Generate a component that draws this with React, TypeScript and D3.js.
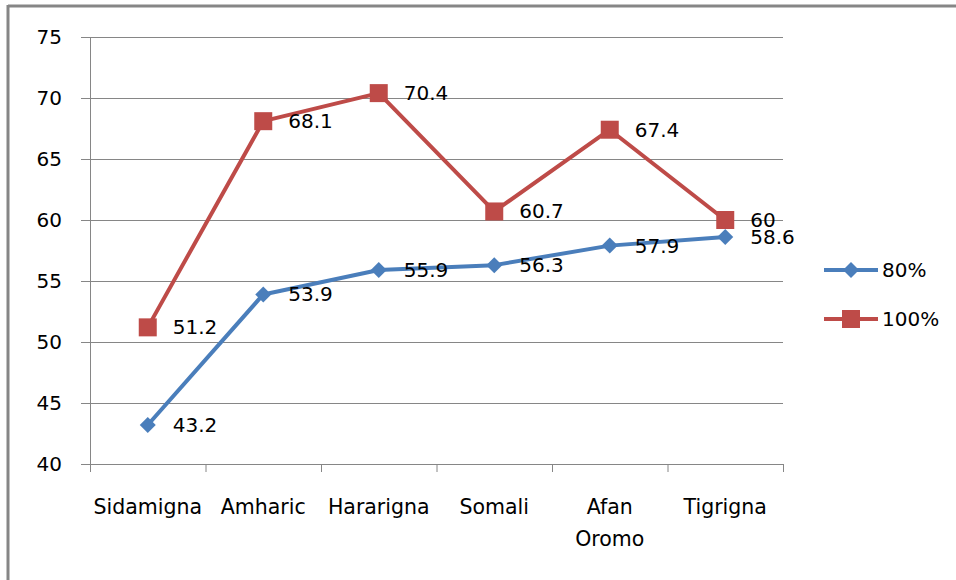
import React from "react";
import * as d3 from "d3";

const categories: string[][] = [["Sidamigna"], ["Amharic"], ["Hararigna"], ["Somali"], ["Afan", "Oromo"], ["Tigrigna"]];
const series80: number[] = [43.2, 53.9, 55.9, 56.3, 57.9, 58.6];
const series100: number[] = [51.2, 68.1, 70.4, 60.7, 67.4, 60];
const yTicks: number[] = [40, 45, 50, 55, 60, 65, 70, 75];

const W = 956, H = 580;
const left = 90, right = 783, top = 37, bottom = 464;
const FONT = "DejaVu Sans, sans-serif";
const BLUE = "#4a7ebb";
const RED = "#be4b48";

export default function App() {
  const x = d3.scaleBand<number>().domain(d3.range(categories.length)).range([left, right]);
  const y = d3.scaleLinear().domain([40, 75]).range([bottom, top]);
  const cx = (i: number) => (x(i) as number) + x.bandwidth() / 2;
  const line = d3.line<number>().x((_, i) => cx(i)).y((v) => y(v));
  const diamond = (px: number, py: number, r: number) =>
    `M${px},${py - r}L${px + r},${py}L${px},${py + r}L${px - r},${py}Z`;

  return (
    <svg width={W} height={H} style={{ position: "absolute", left: 0, top: 0, background: "#fff" }}>
      <rect x={0} y={0} width={W} height={H} fill="#fff" />
      <line x1={8} y1={6} x2={W} y2={6} stroke="#868686" strokeWidth={3} />
      <line x1={8} y1={5} x2={8} y2={H} stroke="#868686" strokeWidth={3} />
      {yTicks.map((t) => (
        <g key={t}>
          <line x1={left - 9} x2={right} y1={y(t) + 0.5} y2={y(t) + 0.5} stroke="#868686" strokeWidth={1} />
          <text x={62} y={y(t)} textAnchor="end" dominantBaseline="central" fontFamily={FONT} fontSize={20} fill="#000">
            {t}
          </text>
        </g>
      ))}
      <line x1={left + 0.5} x2={left + 0.5} y1={top} y2={bottom} stroke="#868686" strokeWidth={1} />
      {d3.range(categories.length + 1).map((i) => {
        const px = i < categories.length ? (x(i) as number) : right;
        return <line key={i} x1={px + 0.5} x2={px + 0.5} y1={bottom} y2={bottom + 8} stroke="#868686" strokeWidth={1} />;
      })}
      {categories.map((c, i) => (
        <text key={i} x={cx(i)} y={507} textAnchor="middle" dominantBaseline="central" fontFamily={FONT} fontSize={20.5} fill="#000">
          {c.map((s, j) => (
            <tspan key={j} x={cx(i)} dy={j === 0 ? 0 : 32}>{s}</tspan>
          ))}
        </text>
      ))}
      <path d={line(series100) || ""} fill="none" stroke={RED} strokeWidth={4} strokeLinejoin="round" />
      {series100.map((v, i) => (
        <rect key={i} x={cx(i) - 9} y={y(v) - 9} width={18} height={18} fill={RED} />
      ))}
      <path d={line(series80) || ""} fill="none" stroke={BLUE} strokeWidth={4} strokeLinejoin="round" />
      {series80.map((v, i) => (
        <path key={i} d={diamond(cx(i), y(v), 8)} fill={BLUE} />
      ))}
      {series100.map((v, i) => (
        <text key={i} x={cx(i) + 25} y={y(v)} dominantBaseline="central" fontFamily={FONT} fontSize={20} fill="#000">
          {v}
        </text>
      ))}
      {series80.map((v, i) => (
        <text key={i} x={cx(i) + 25} y={y(v)} dominantBaseline="central" fontFamily={FONT} fontSize={20} fill="#000">
          {v}
        </text>
      ))}
      <g>
        <line x1={824} x2={878} y1={270} y2={270} stroke={BLUE} strokeWidth={4} />
        <path d={diamond(851, 270, 8)} fill={BLUE} />
        <text x={882} y={270} dominantBaseline="central" fontFamily={FONT} fontSize={20}>80%</text>
        <line x1={824} x2={878} y1={319} y2={319} stroke={RED} strokeWidth={4} />
        <rect x={842} y={310} width={18} height={18} fill={RED} />
        <text x={882} y={319} dominantBaseline="central" fontFamily={FONT} fontSize={20}>100%</text>
      </g>
    </svg>
  );
}
